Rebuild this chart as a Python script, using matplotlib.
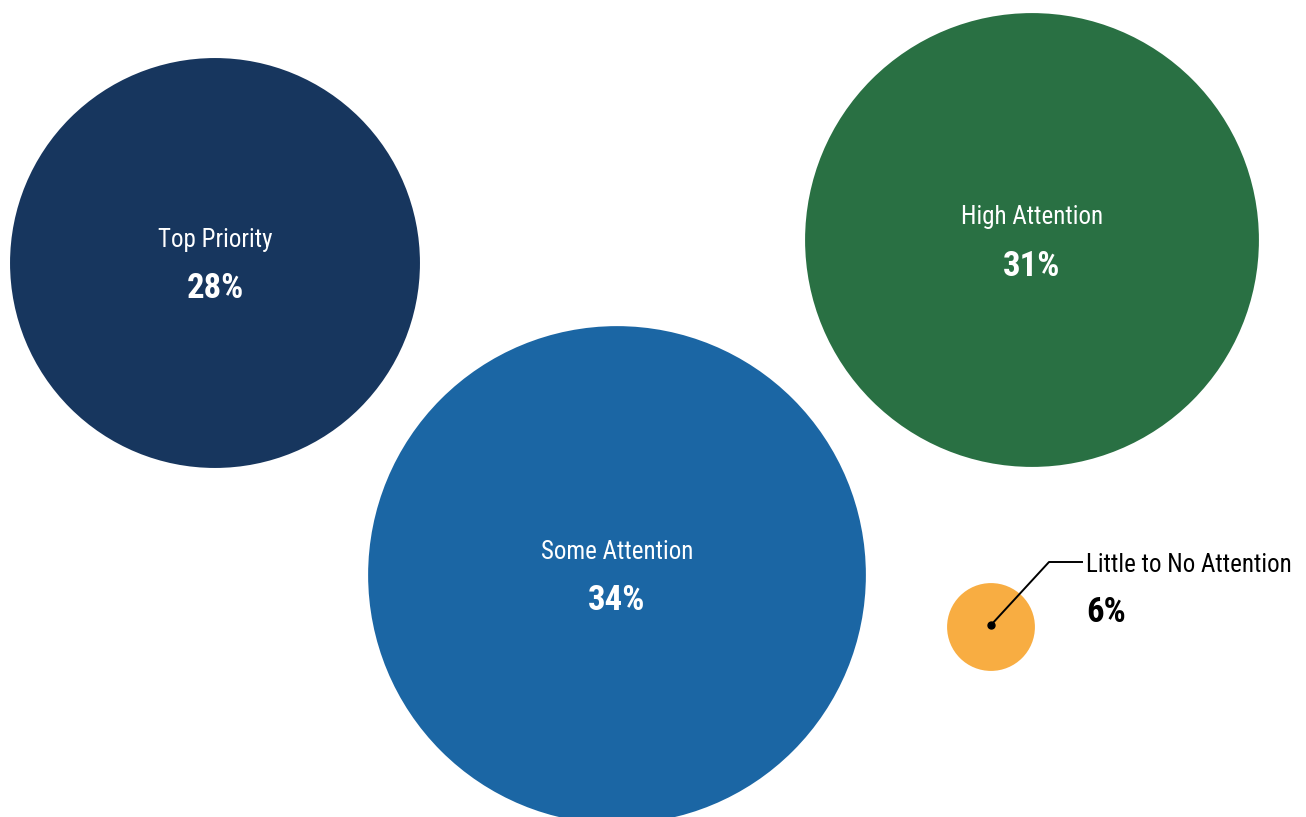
import matplotlib.pyplot as plt
from matplotlib import font_manager
from matplotlib.patches import Circle

categories = ['Top Priority', 'High Attention', 'Some Attention', 'Little to No Attention']
shares = [28, 31, 34, 6]
colors = ['#17365E', '#297043', '#1B66A4', '#F8AD42']

# bubble centres in pixel space, radius grows linearly with the share
centers = [(215, 263), (1032, 240), (617, 575), (991, 627)]
px_per_pct = 7.32

installed = {f.name for f in font_manager.fontManager.ttflist}
family = 'Roboto'
for name in ['Roboto Condensed', 'Liberation Sans Narrow', 'Open Sans Condensed', 'Roboto']:
    if name in installed:
        family = name
        break
plt.rcParams['font.family'] = [family, 'DejaVu Sans']

fig = plt.figure(figsize=(13.06, 8.17), dpi=100)
ax = fig.add_axes([0, 0, 1, 1])
ax.set_xlim(0, 1306)
ax.set_ylim(817, 0)
ax.set_aspect('equal')
ax.axis('off')

for cat, val, col, (cx, cy) in zip(categories, shares, colors, centers):
    ax.add_patch(Circle((cx, cy), val * px_per_pct, color=col, lw=0))
    if val * px_per_pct > 100:
        ax.text(cx, cy - 23, cat, ha='center', va='center', color='white', fontsize=18)
        ax.text(cx, cy + 26, f'{val}%', ha='center', va='center', color='white',
                fontsize=25, fontweight='bold')
    else:
        # small bubble gets an elbow leader line to an outside label
        ax.plot([cx, 1049, 1082], [cy - 2, 562, 562], color='black', lw=1.4)
        ax.plot(cx, cy - 2, 'o', color='black', ms=5)
        ax.text(1086, 565, cat, ha='left', va='center', color='black', fontsize=18)
        ax.text(1086, 613, f'{val}%', ha='left', va='center', color='black',
                fontsize=25, fontweight='bold')

fig.savefig('out.png', dpi=100)
